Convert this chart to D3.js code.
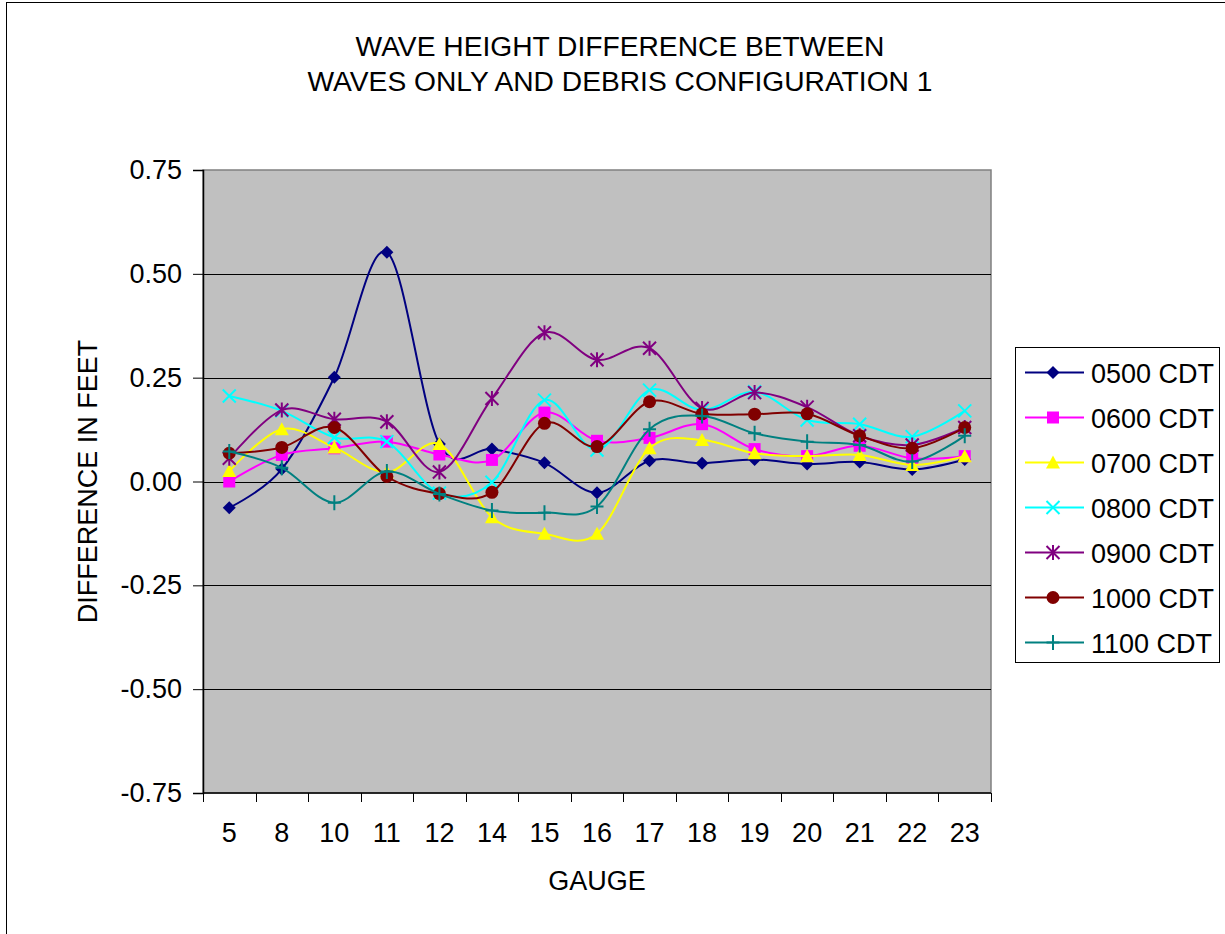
<!DOCTYPE html>
<html>
<head>
<meta charset="utf-8">
<script src="https://cdn.jsdelivr.net/npm/d3@7"></script>
<style>
  html, body { margin: 0; padding: 0; background: #fff; }
  svg { display: block; font-family: Arial, "Liberation Sans", sans-serif; }
</style>
</head>
<body>
<svg id="chart" width="1225" height="934"></svg>
<script>
const titleLines = ["WAVE HEIGHT DIFFERENCE BETWEEN", "WAVES ONLY AND DEBRIS CONFIGURATION 1"];
const xTitle = "GAUGE";
const yTitle = "DIFFERENCE IN FEET";
const gauges = ["5", "8", "10", "11", "12", "14", "15", "16", "17", "18", "19", "20", "21", "22", "23"];
const yTicks = [0.75, 0.5, 0.25, 0, -0.25, -0.5, -0.75];
const seriesNames = ["0500 CDT", "0600 CDT", "0700 CDT", "0800 CDT", "0900 CDT", "1000 CDT", "1100 CDT"];
const seriesColors = ["#000080", "#FF00FF", "#FFFF00", "#00FFFF", "#800080", "#800000", "#008080"];
const seriesMarkers = ["diamond", "square", "triangle", "x", "star", "circle", "plus"];
const s0500 = [-0.063, 0.030, 0.251, 0.552, 0.090, 0.078, 0.045, -0.027, 0.050, 0.044, 0.053, 0.042, 0.047, 0.029, 0.053];
const s0600 = [0.000, 0.064, 0.080, 0.096, 0.065, 0.052, 0.166, 0.098, 0.105, 0.138, 0.078, 0.061, 0.086, 0.056, 0.061];
const s0700 = [0.025, 0.126, 0.082, 0.022, 0.090, -0.086, -0.126, -0.126, 0.080, 0.100, 0.068, 0.061, 0.064, 0.040, 0.061];
const s0800 = [0.206, 0.170, 0.106, 0.096, -0.028, -0.002, 0.196, 0.076, 0.220, 0.172, 0.216, 0.148, 0.138, 0.108, 0.170];
const s0900 = [0.056, 0.172, 0.150, 0.144, 0.023, 0.200, 0.358, 0.293, 0.321, 0.176, 0.214, 0.179, 0.110, 0.088, 0.130];
const s1000 = [0.068, 0.082, 0.130, 0.012, -0.029, -0.026, 0.140, 0.084, 0.192, 0.163, 0.162, 0.163, 0.110, 0.080, 0.130];
const s1100 = [0.072, 0.033, -0.051, 0.024, -0.030, -0.070, -0.075, -0.060, 0.126, 0.158, 0.116, 0.096, 0.088, 0.048, 0.110];
const seriesValues = [s0500, s0600, s0700, s0800, s0900, s1000, s1100];

const svg = d3.select("#chart");
const plot = { left: 203, top: 170, right: 991, bottom: 793 };

// outer chart border
svg.append("rect").attr("x", 6.5).attr("y", 2.5).attr("width", 1300).attr("height", 1000)
  .attr("fill", "#fff").attr("stroke", "#000").attr("stroke-width", 1);

const x = d3.scaleBand().domain(gauges).range([plot.left, plot.right]).padding(0);
const y = d3.scaleLinear().domain([-0.75, 0.75]).range([plot.bottom, plot.top]);

// plot background
svg.append("rect").attr("x", plot.left).attr("y", plot.top)
  .attr("width", plot.right - plot.left).attr("height", plot.bottom - plot.top)
  .attr("fill", "#C0C0C0").attr("stroke", "#808080").attr("stroke-width", 1.5);

// gridlines
svg.append("g").selectAll("line").data(yTicks.filter(v => v > -0.75 && v < 0.75)).join("line")
  .attr("x1", plot.left).attr("x2", plot.right)
  .attr("y1", d => Math.round(y(d)) + 0.5).attr("y2", d => Math.round(y(d)) + 0.5)
  .attr("stroke", "#000").attr("stroke-width", 1);

// y axis
const yAxis = d3.axisLeft(y).tickValues(yTicks).tickFormat(d3.format(".2f")).tickSize(10).tickPadding(11);
const gy = svg.append("g").attr("transform", `translate(${plot.left},0)`).call(yAxis);
gy.select(".domain").attr("stroke", "#000").attr("stroke-width", 1.5);
gy.selectAll(".tick line").attr("stroke", "#000");
gy.selectAll("text").attr("font-size", 27).attr("fill", "#000").attr("font-family", "Arial, 'Liberation Sans', sans-serif")
  .text(d => d < 0 ? "-" + d3.format(".2f")(-d) : d3.format(".2f")(d));

// x axis (ticks at category boundaries)
const gx = svg.append("g").attr("transform", `translate(0,${plot.bottom})`);
gx.append("line").attr("x1", plot.left).attr("x2", plot.right).attr("y1", 0).attr("y2", 0)
  .attr("stroke", "#000").attr("stroke-width", 1.5);
const bounds = gauges.map(g => x(g)).concat([x(gauges[gauges.length - 1]) + x.bandwidth()]);
gx.selectAll("line.tk").data(bounds).join("line").attr("class", "tk")
  .attr("x1", d => Math.round(d) + 0.5).attr("x2", d => Math.round(d) + 0.5).attr("y1", 0).attr("y2", 9)
  .attr("stroke", "#000").attr("stroke-width", 1);
gx.selectAll("text").data(gauges).join("text")
  .attr("x", d => x(d) + x.bandwidth() / 2).attr("y", 49)
  .attr("text-anchor", "middle").attr("font-size", 27).attr("fill", "#000").text(d => d);

// titles
svg.append("g").selectAll("text").data(titleLines).join("text")
  .attr("x", 620).attr("y", (d, i) => 56 + i * 35)
  .attr("text-anchor", "middle").attr("font-size", 28.2).attr("fill", "#000").text(d => d);
svg.append("text").attr("x", 597).attr("y", 890).attr("text-anchor", "middle")
  .attr("font-size", 27).attr("fill", "#000").text(xTitle);
svg.append("text").attr("transform", `translate(97,${(plot.top + plot.bottom) / 2}) rotate(-90)`)
  .attr("text-anchor", "middle").attr("font-size", 27).attr("fill", "#000").text(yTitle);

// marker drawing
function drawMarker(g, type, color, cx, cy) {
  const s = 6.5;
  if (type === "diamond") {
    g.append("path").attr("d", `M${cx},${cy - s}L${cx + s},${cy}L${cx},${cy + s}L${cx - s},${cy}Z`).attr("fill", color);
  } else if (type === "square") {
    g.append("rect").attr("x", cx - 6).attr("y", cy - 6).attr("width", 12).attr("height", 12).attr("fill", color);
  } else if (type === "triangle") {
    g.append("path").attr("d", `M${cx},${cy - 7}L${cx + 7},${cy + 6}L${cx - 7},${cy + 6}Z`).attr("fill", color);
  } else if (type === "circle") {
    g.append("circle").attr("cx", cx).attr("cy", cy).attr("r", 6.5).attr("fill", color);
  } else if (type === "x") {
    g.append("path").attr("d", `M${cx - s},${cy - s}L${cx + s},${cy + s}M${cx - s},${cy + s}L${cx + s},${cy - s}`)
      .attr("stroke", color).attr("stroke-width", 2).attr("fill", "none");
  } else if (type === "star") {
    g.append("path").attr("d", `M${cx - s},${cy - s}L${cx + s},${cy + s}M${cx - s},${cy + s}L${cx + s},${cy - s}M${cx},${cy - s - 1}L${cx},${cy + s + 1}`)
      .attr("stroke", color).attr("stroke-width", 2).attr("fill", "none");
  } else if (type === "plus") {
    g.append("path").attr("d", `M${cx - s},${cy}L${cx + s},${cy}M${cx},${cy - s - 1}L${cx},${cy + s + 1}`)
      .attr("stroke", color).attr("stroke-width", 2).attr("fill", "none");
  }
}

const line = d3.line()
  .x((d, i) => x(gauges[i]) + x.bandwidth() / 2)
  .y(d => y(d))
  .curve(d3.curveCatmullRom.alpha(0));

seriesValues.forEach((vals, si) => {
  const g = svg.append("g");
  g.append("path").attr("d", line(vals)).attr("fill", "none")
    .attr("stroke", seriesColors[si]).attr("stroke-width", 2);
  vals.forEach((v, i) => drawMarker(g, seriesMarkers[si], seriesColors[si], x(gauges[i]) + x.bandwidth() / 2, y(v)));
});

// legend
const lg = svg.append("g");
lg.append("rect").attr("x", 1015.5).attr("y", 347.5).attr("width", 204).attr("height", 315)
  .attr("fill", "#fff").attr("stroke", "#000").attr("stroke-width", 1);
seriesNames.forEach((name, i) => {
  const cy = 372.5 + i * 45;
  lg.append("line").attr("x1", 1025).attr("x2", 1084).attr("y1", cy).attr("y2", cy)
    .attr("stroke", seriesColors[i]).attr("stroke-width", 2);
  drawMarker(lg, seriesMarkers[i], seriesColors[i], 1053, cy);
  lg.append("text").attr("x", 1091).attr("y", cy + 10).attr("font-size", 27).attr("fill", "#000").text(name);
});
</script>
</body>
</html>
